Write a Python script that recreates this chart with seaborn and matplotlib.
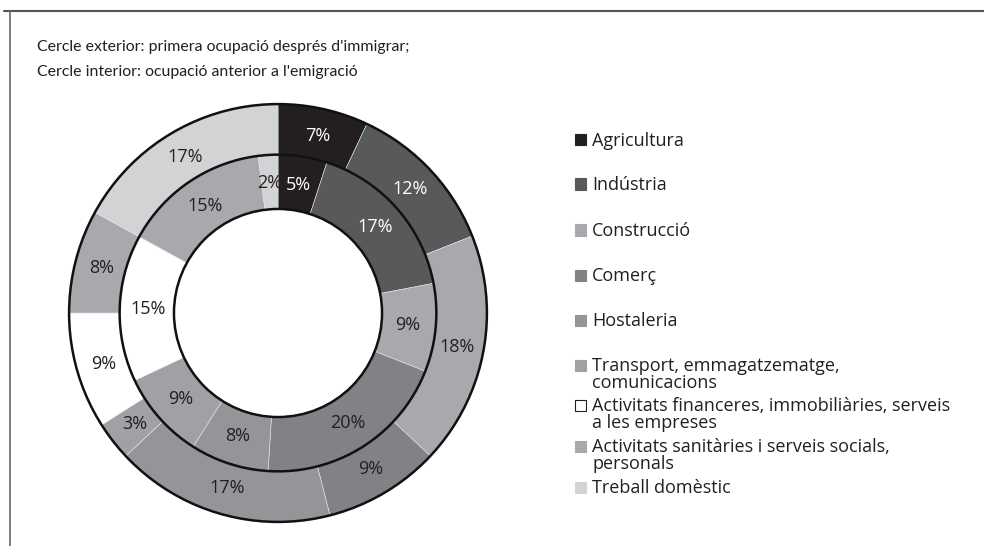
import matplotlib
matplotlib.use("Agg")
import matplotlib.pyplot as plt
import seaborn as sns

# Dades
sectors = ['Agricultura', 'Indústria', 'Construcció', 'Comerç', 'Hostaleria',
           'Transport, emmagatzematge,\ncomunicacions',
           'Activitats financeres, immobiliàries, serveis\na les empreses',
           'Activitats sanitàries i serveis socials,\npersonals',
           'Treball domèstic']
exterior = [7, 12, 18, 9, 17, 3, 9, 8, 17]   # primera ocupació després d'immigrar
interior = [5, 17, 9, 20, 8, 9, 15, 15, 2]   # ocupació anterior a l'emigració

colors = ['#231f20', '#58595b', '#a7a9ac', '#808285', '#939598',
          '#9fa1a4', '#ffffff', '#a7a9ac', '#d1d3d4']
text_colors = ['white', 'white'] + ['#231f20'] * 7

sns.set_style('white')
plt.rcParams['font.family'] = ['Open Sans', 'DejaVu Sans']

fig = plt.figure(figsize=(9.84, 5.46), dpi=100)
ax = fig.add_axes([67 / 984, 22 / 546, 422 / 984, 422 / 546])

r_out, r_mid, r_in = 1.0, 0.758, 0.498

w1, t1, a1 = ax.pie(exterior, radius=r_out, colors=colors, startangle=90, counterclock=False,
                    autopct='%d%%', pctdistance=0.87,
                    wedgeprops=dict(width=r_out - r_mid, edgecolor='#e6e6e6', linewidth=0.4))
w2, t2, a2 = ax.pie(interior, radius=r_mid, colors=colors, startangle=90, counterclock=False,
                    autopct='%d%%', pctdistance=0.82,
                    wedgeprops=dict(width=r_mid - r_in, edgecolor='#e6e6e6', linewidth=0.4))

for txts in (a1, a2):
    for t, c in zip(txts, text_colors):
        t.set_color(c)
        t.set_fontsize(13)

for r in (r_out, r_mid, r_in):
    ax.add_patch(plt.Circle((0, 0), r, fill=False, edgecolor='#111111', linewidth=1.8))

ax.set_xlim(-1.01, 1.01)
ax.set_ylim(-1.01, 1.01)
ax.set_aspect('equal')
ax.axis('off')

# Títol
title_font = ['Liberation Sans Narrow', 'Lato', 'DejaVu Sans']
fig.text(37 / 984, 1 - 47 / 546, "Cercle exterior: primera ocupació després d'immigrar;",
         fontsize=11.4, color='#231f20', va='center', family=title_font)
fig.text(37 / 984, 1 - 72 / 546, "Cercle interior: ocupació anterior a l'emigració",
         fontsize=11.4, color='#231f20', va='center', family=title_font)

# Llegenda
legend_y = [140, 184, 230, 275, 320, 365, 405, 446, 487]
for lab, col, y in zip(sectors, colors, legend_y):
    fig.patches.append(plt.Rectangle(((580 - 5.5) / 984, 1 - (y + 5.5) / 546), 11 / 984, 11 / 546,
                                     transform=fig.transFigure, facecolor=col,
                                     edgecolor='#231f20' if col == '#ffffff' else col,
                                     linewidth=0.8))
    fig.text(592 / 984, 1 - (y - 8) / 546, lab, fontsize=13, color='#231f20',
             va='top', linespacing=0.95)

# Marc
fig.add_artist(plt.Line2D([4 / 984, 1], [1 - 11 / 546, 1 - 11 / 546], transform=fig.transFigure,
                          color='#555555', linewidth=1.5))
fig.add_artist(plt.Line2D([10 / 984, 10 / 984], [0, 1 - 11 / 546], transform=fig.transFigure,
                          color='#666666', linewidth=1.2))

fig.savefig('out.png', dpi=100)
